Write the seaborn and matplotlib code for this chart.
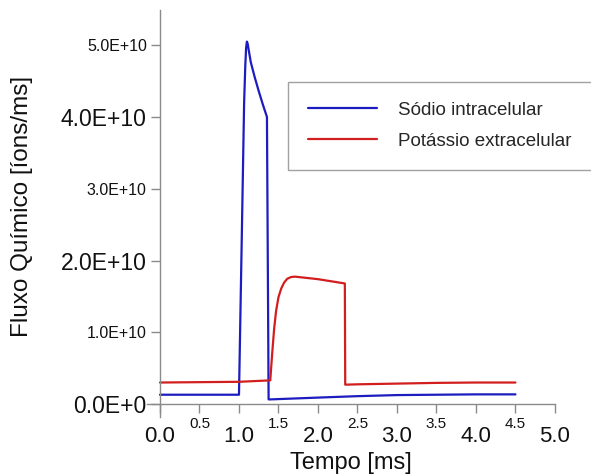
import matplotlib
matplotlib.use("Agg")
import matplotlib.pyplot as plt
import seaborn as sns
import pandas as pd

# ---- data (values in units of 1E10 ions/ms) ----
sodio_t = [0.0, 1.00, 1.035, 1.065, 1.08, 1.09, 1.10, 1.11, 1.125, 1.15, 1.20, 1.25, 1.30,
           1.354, 1.375, 1.40, 2.0, 2.5, 3.0, 3.5, 4.0, 4.5]
sodio_v = [0.13, 0.13, 2.3, 4.2, 4.72, 4.96, 5.05, 5.02, 4.92, 4.76, 4.55, 4.36, 4.18,
           4.0, 0.065, 0.065, 0.09, 0.11, 0.125, 0.13, 0.135, 0.135]

potassio_t = [0.0, 1.0, 1.396, 1.42, 1.445, 1.47, 1.50, 1.535, 1.57, 1.61, 1.66, 1.71, 2.0,
              2.34, 2.345, 2.5, 3.0, 3.5, 4.0, 4.5]
potassio_v = [0.30, 0.31, 0.33, 0.7, 1.05, 1.3, 1.49, 1.61, 1.69, 1.745, 1.77, 1.775, 1.74,
              1.68, 0.27, 0.275, 0.285, 0.295, 0.30, 0.30]

labels = ["Sódio intracelular", "Potássio extracelular"]
colors = ["#1c1cc0", "#d21e1e"]

x_major = [0.0, 1.0, 2.0, 3.0, 4.0, 5.0]
x_minor = [0.5, 1.5, 2.5, 3.5, 4.5]
y_major = [0.0, 2.0, 4.0]
y_minor = [1.0, 3.0, 5.0]
y_major_lbl = ["0.0E+0", "2.0E+10", "4.0E+10"]
y_minor_lbl = ["1.0E+10", "3.0E+10", "5.0E+10"]

sns.set_style("white")
plt.rcParams["font.family"] = ["Liberation Sans", "DejaVu Sans"]

fig = plt.figure(figsize=(5.91, 4.76), dpi=100)
ax = fig.add_axes([0.248, 0.124, 0.691, 0.855])

df1 = pd.DataFrame({"t": sodio_t, "v": sodio_v})
df2 = pd.DataFrame({"t": potassio_t, "v": potassio_v})
sns.lineplot(data=df1, x="t", y="v", ax=ax, color=colors[0], lw=1.6, sort=False,
             estimator=None, label=labels[0])
sns.lineplot(data=df2, x="t", y="v", ax=ax, color=colors[1], lw=1.6, sort=False,
             estimator=None, label=labels[1])

ax.set_xlim(-0.17, 5.0)
ax.set_ylim(-0.18, 5.49)
for s in ["top", "right"]:
    ax.spines[s].set_visible(False)
ax.spines["left"].set_position(("data", 0))
ax.spines["bottom"].set_position(("data", 0))
for s in ["left", "bottom"]:
    ax.spines[s].set_color("#8a8a8a")
    ax.spines[s].set_linewidth(1.0)

ax.set_xticks(x_major)
ax.set_xticklabels([f"{v:.1f}" for v in x_major])
ax.set_xticks(x_minor, minor=True)
ax.set_xticklabels([f"{v:.1f}" for v in x_minor], minor=True)
ax.set_yticks(y_major)
ax.set_yticklabels(y_major_lbl)
ax.set_yticks(y_minor, minor=True)
ax.set_yticklabels(y_minor_lbl, minor=True)

ax.tick_params(axis="both", which="both", direction="out", length=6.5, width=1,
               color="#8a8a8a", bottom=True, left=True, labelcolor="#111111")
ax.tick_params(axis="x", which="major", labelsize=16, pad=9)
ax.tick_params(axis="x", which="minor", labelsize=11, pad=3)
ax.tick_params(axis="y", which="major", labelsize=16.5, pad=3)
ax.tick_params(axis="y", which="minor", labelsize=11.5, pad=3)

ax.set_xlabel("Tempo [ms]", fontsize=17, labelpad=4, color="#111111")
ax.set_ylabel("")
fig.text(0.037, 0.567, "Fluxo Químico [íons/ms]", rotation=90, fontsize=17.5,
         ha="center", va="center", color="#111111")

leg = ax.legend(loc="upper left", bbox_to_anchor=(0.487, 0.828),
                bbox_transform=fig.transFigure, fontsize=13.5, frameon=True,
                fancybox=False, edgecolor="#8a8a8a", handlelength=3.7,
                borderpad=1.05, labelspacing=0.75, handletextpad=1.15,
                borderaxespad=0)
leg.get_frame().set_linewidth(1.0)

fig.savefig("out.png", dpi=100)
